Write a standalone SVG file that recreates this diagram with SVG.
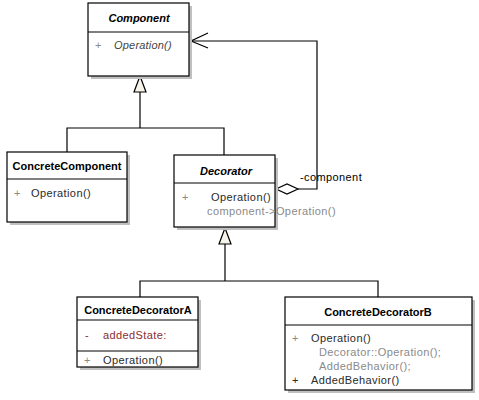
<svg xmlns="http://www.w3.org/2000/svg" width="479" height="400" viewBox="0 0 479 400">
<style>
.box{fill:#fff;stroke:#000;stroke-width:1.2}
.sh{fill:#c0c0c0}
.div{stroke:#000;stroke-width:1}
.t{font-family:"Liberation Sans",Arial,sans-serif;font-size:11px;fill:#2a2a2a;letter-spacing:0.4px}
.b{font-weight:bold;fill:#000;letter-spacing:0}
.i{font-style:italic}
.g{fill:#8a8a8a}
.r{fill:#8b2e2e}
.ln{fill:none;stroke:#000;stroke-width:1.2}
.tri{fill:#f7f5ea;stroke:#000;stroke-width:1.2}
</style>
<rect width="479" height="400" fill="#fff"/>
<g id="connectors">
<polyline class="ln" points="140,92 140,128"/>
<polyline class="ln" points="67,152 67,128 224,128 224,155"/>
<polygon class="tri" points="140,76 134,92 146,92"/>
<polyline class="ln" points="225,244 225,281"/>
<polyline class="ln" points="140,297 140,281 378,281 378,297"/>
<polygon class="tri" points="225,228 219,244 231,244"/>
<polyline class="ln" points="298,189 317,189 317,41 191,41"/>
<polyline class="ln" points="208,33 191,41 208,48"/>
<polygon points="276,189 287,184 298,189 287,194" fill="#fff" stroke="#000" stroke-width="1.2"/>
<text class="t" x="300" y="181" style="fill:#000">-component</text>
</g>
<g id="Component">
<rect class="sh" x="91" y="6" width="101" height="73"/>
<rect class="box" x="88" y="3" width="101" height="73"/>
<line class="div" x1="88" y1="32" x2="189" y2="32"/>
<text class="t b i" x="139" y="22" text-anchor="middle">Component</text>
<text class="t g" x="95" y="49">+</text>
<text class="t i" x="114" y="49" style="fill:#444;letter-spacing:0.2px">Operation()</text>
</g>
<g id="ConcreteComponent">
<rect class="sh" x="10" y="155" width="120" height="70"/>
<rect class="box" x="7" y="152" width="120" height="70"/>
<line class="div" x1="7" y1="179" x2="127" y2="179"/>
<text class="t b" x="67" y="170" text-anchor="middle">ConcreteComponent</text>
<text class="t g" x="14" y="197">+</text>
<text class="t" x="31" y="197">Operation()</text>
</g>
<g id="Decorator">
<rect class="sh" x="177" y="158" width="101" height="72"/>
<rect class="box" x="174" y="155" width="101" height="72"/>
<line class="div" x1="174" y1="183" x2="275" y2="183"/>
<text class="t b i" x="226" y="175" text-anchor="middle">Decorator</text>
<text class="t g" x="182" y="201">+</text>
<text class="t" x="211" y="201">Operation()</text>
<text class="t g" x="207" y="215">component-&gt;Operation()</text>
</g>
<g id="ConcreteDecoratorA">
<rect class="sh" x="80" y="300" width="121" height="70"/>
<rect class="box" x="77" y="297" width="121" height="70"/>
<line class="div" x1="77" y1="320" x2="198" y2="320"/>
<line class="div" x1="77" y1="351" x2="198" y2="351"/>
<text class="t b" x="138" y="314" text-anchor="middle">ConcreteDecoratorA</text>
<text class="t r" x="85" y="339">-</text>
<text class="t r" x="103" y="339">addedState:</text>
<text class="t g" x="84" y="364">+</text>
<text class="t" x="103" y="364">Operation()</text>
</g>
<g id="ConcreteDecoratorB">
<rect class="sh" x="288" y="300" width="187" height="93"/>
<rect class="box" x="285" y="297" width="187" height="93"/>
<line class="div" x1="285" y1="325" x2="472" y2="325"/>
<text class="t b" x="378" y="316" text-anchor="middle">ConcreteDecoratorB</text>
<text class="t g" x="292" y="342">+</text>
<text class="t" x="311" y="342">Operation()</text>
<text class="t g" x="319" y="356">Decorator::Operation();</text>
<text class="t g" x="319" y="370">AddedBehavior();</text>
<text class="t" x="292" y="384">+</text>
<text class="t" x="311" y="384">AddedBehavior()</text>
</g>
</svg>
